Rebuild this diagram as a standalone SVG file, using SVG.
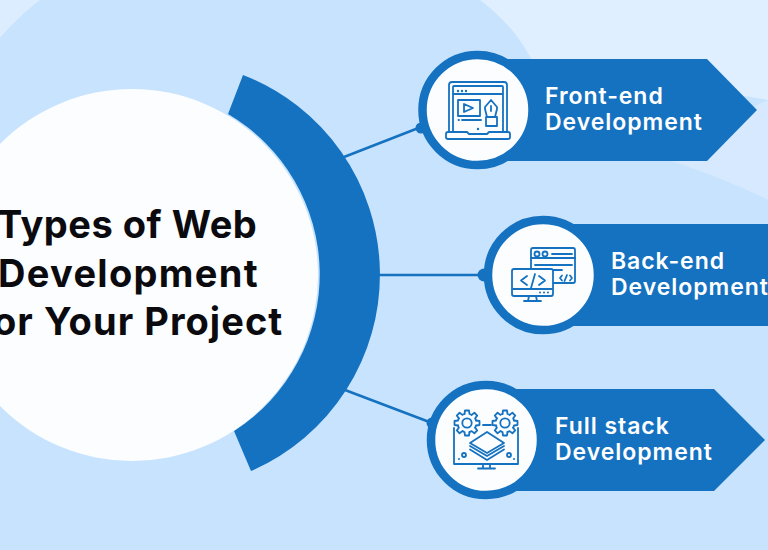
<svg xmlns="http://www.w3.org/2000/svg" width="768" height="550" viewBox="0 0 768 550">
<style>
.t{font-family:"Inter","Liberation Sans",sans-serif}
.h{font-size:38px;fill:#0b0b0f;font-weight:700}
.l{font-size:23px;fill:#fff;font-weight:600;letter-spacing:.95px}
.ring{fill:#fbfdff;stroke:#1572c0;stroke-width:8.5}
.bar{fill:#1572c0}
.i{fill:none;stroke:#1572c0;stroke-width:1.800;stroke-linejoin:round;stroke-linecap:round}
.d{fill:#1572c0}
.c{stroke:#1572c0;stroke-width:2.500;fill:none}
</style>
<defs>
<path id="tooth" d="M-2.500 -9L-2 -12.500H2L2.500 -9A9.340 9.340 0 0 1 4.600 -8.130"/>
<g id="gear">
<use href="#tooth"/>
<use href="#tooth" transform="rotate(45)"/>
<use href="#tooth" transform="rotate(90)"/>
<use href="#tooth" transform="rotate(135)"/>
<use href="#tooth" transform="rotate(180)"/>
<use href="#tooth" transform="rotate(225)"/>
<use href="#tooth" transform="rotate(270)"/>
<use href="#tooth" transform="rotate(315)"/>
<circle r="4.700"/>
</g>
</defs>
<rect width="768" height="550" fill="#c7e3fe"/>
<path d="M480 0C506 20 520 38 532 60L768 100V0Z" fill="#dfefff"/>
<path d="M668 160C705 172 740 186 768 200V100L757 105Z" fill="#d6e9fe"/>
<path d="M0 0H40Q18 17 0 38Z" fill="#dbedff"/>
<g id="connectors">
<line class="c" x1="344" y1="157" x2="421" y2="127"/>
<line class="c" x1="378" y1="275" x2="484" y2="275"/>
<line class="c" x1="345" y1="390" x2="432" y2="423"/>
<circle class="d" cx="421" cy="128" r="5.500"/>
<circle class="d" cx="484" cy="275" r="6.500"/>
<circle class="d" cx="432" cy="423" r="5.500"/>
</g>
<g id="center">
<path d="M243 75A214 214 0 0 1 251 471L234 431A186 186 0 0 0 228 114Z" fill="#1572c0"/>
<circle cx="132" cy="275" r="186" fill="#fbfdff"/>
<text class="t h" x="-3" y="238" letter-spacing=".5">Types of Web</text>
<text class="t h" x="-2" y="287" letter-spacing="1.300">Development</text>
<text class="t h" x="-7" y="335" letter-spacing="1.050">or Your Project</text>
</g>
<g id="front-end">
<path class="bar" d="M478 59H707L757 110L707 161H478Z"/>
<circle class="ring" cx="477.500" cy="110" r="55"/>
<g class="i">
<path d="M449 131V85Q449 82 452 82H504Q507 82 507 85V131"/>
<path d="M453 131V87Q453 86 454 86H502Q503 86 503 87V131M453 94H503"/>
<rect x="458" y="100" width="22" height="16"/>
<path d="M464 104L473 108L464 112Z"/>
<path d="M462 120H481M458.500 120H459"/>
<path d="M446 134Q446 132 448 132H467L469 134H487L489 132H508Q510 132 510 134V137Q510 139 508 139H448Q446 139 446 137Z"/>
<path d="M491 100L485 107V109L487 117H495L497 109V107ZM491 106V111M486 117H497V126H486Z"/>
</g>
<g class="d"><circle cx="458" cy="91" r="1.200"/><circle cx="462" cy="91" r="1.200"/><circle cx="466" cy="91" r="1.200"/><circle cx="478" cy="129" r="1.200"/></g>
<text class="t l" x="545" y="104">Front-end</text>
<text class="t l" x="545" y="130">Development</text>
</g>
<g id="back-end">
<path class="bar" d="M544 224H768V326H544Z"/>
<circle class="ring" cx="543" cy="275" r="55"/>
<g class="i">
<rect x="531" y="248" width="44" height="35" rx="2"/>
<path d="M531 258H575M552 254H572M535 265H572M535 270H562"/>
<circle cx="537" cy="254" r="2.500"/><circle cx="545" cy="254" r="2.500"/>
<path d="M562 275.500L560 278L562 280.500M570 275.500L572 278L570 280.500M564.500 281L567 275"/>
<rect x="512" y="269" width="41" height="27" rx="2" fill="#fbfdff"/>
<path d="M527 276L521 280.500L527 285M539 276L545 280.500L539 285M535 274L531 288M524 301H541M529 296L528 301M536 296L537 301M513 289H552"/>
</g>
<g class="d"><circle cx="540" cy="292.500" r="1"/><circle cx="544" cy="292.500" r="1"/><circle cx="548" cy="292.500" r="1"/></g>
<text class="t l" x="611" y="269">Back-end</text>
<text class="t l" x="611" y="295">Development</text>
</g>
<g id="full-stack">
<path class="bar" d="M488 389H714L765 440L714 491H488Z"/>
<circle class="ring" cx="486" cy="440" r="55"/>
<g class="i">
<use href="#gear" transform="translate(467 423)"/>
<use href="#gear" transform="translate(505 423)"/>
<path d="M483 425H491M454 428V464H518V428M483 464V468M490 464V468M478 468.500H495"/>
<path d="M487 432L504 443L487 453L470 443Z"/>
<path d="M470 446L487 456L504 446M470 449.500L487 460L504 449.500"/>
<circle cx="464" cy="455" r="2"/><circle cx="509" cy="455" r="2"/>
</g>
<g class="d"><circle cx="459" cy="459" r="1"/><circle cx="514" cy="459" r="1"/></g>
<text class="t l" x="555" y="434">Full stack</text>
<text class="t l" x="555" y="460">Development</text>
</g>
</svg>
